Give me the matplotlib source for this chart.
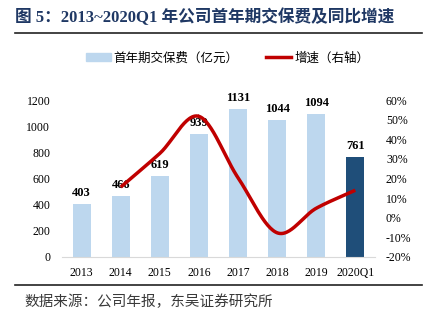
import numpy as np
import matplotlib
matplotlib.use('Agg')
import matplotlib.pyplot as plt
from matplotlib.patches import Patch
from matplotlib.lines import Line2D

categories = ['2013', '2014', '2015', '2016', '2017', '2018', '2019', '2020Q1']
premium = [403, 466, 619, 939, 1131, 1044, 1094, 761]
growth = [None, 15.6, 32.8, 51.7, 20.4, -7.7, 4.8, 14.0]  # %

light_blue = '#BDD7EE'
dark_blue = '#1F4E79'
red = '#C00000'
serif = ['Liberation Serif', 'Noto Sans CJK SC']
cjk = ['Noto Sans CJK SC', 'DejaVu Sans']


def smooth(xs, ys, n=30):
    # excel-like smoothed line (catmull-rom)
    xs = np.asarray(xs, float)
    ys = np.asarray(ys, float)
    px = np.concatenate([[2 * xs[0] - xs[1]], xs, [2 * xs[-1] - xs[-2]]])
    py = np.concatenate([[2 * ys[0] - ys[1]], ys, [2 * ys[-1] - ys[-2]]])
    outx, outy = [], []
    for i in range(1, len(px) - 2):
        t = np.linspace(0, 1, n)
        for p, out in ((px, outx), (py, outy)):
            p0, p1, p2, p3 = p[i - 1], p[i], p[i + 1], p[i + 2]
            out.extend(0.5 * ((2 * p1) + (-p0 + p2) * t
                              + (2 * p0 - 5 * p1 + 4 * p2 - p3) * t ** 2
                              + (-p0 + 3 * p1 - 3 * p2 + p3) * t ** 3))
    return np.array(outx), np.array(outy)


fig = plt.figure(figsize=(4.25, 3.26), dpi=100)
ax = fig.add_axes([0.146, 0.212, 0.736, 0.481])

x = np.arange(len(categories))
colors = [light_blue] * (len(categories) - 1) + [dark_blue]
ax.bar(x, premium, width=0.46, color=colors, zorder=2)
for xi, v in zip(x, premium):
    ax.text(xi, v + 40, str(v), ha='center', va='bottom', fontsize=9,
            fontweight='bold', family=serif, zorder=5)

ax.set_ylim(0, 1200)
ax.set_yticks(range(0, 1201, 200))
ax.set_xlim(-0.5, len(categories) - 0.5)
ax.set_xticks(x)
ax.set_xticklabels(categories)
for s in ['top', 'right', 'left']:
    ax.spines[s].set_visible(False)
ax.spines['bottom'].set_color('#D9D9D9')
ax.tick_params(axis='both', length=0, labelsize=8.5)
ax.tick_params(axis='y', pad=8.5)
ax.tick_params(axis='x', pad=7)
for lab in ax.get_xticklabels() + ax.get_yticklabels():
    lab.set_family(serif)

ax2 = ax.twinx()
gx = [xi for xi, g in zip(x, growth) if g is not None]
gy = [g for g in growth if g is not None]
sx, sy = smooth(gx, gy)
ax2.plot(sx, sy, color=red, lw=2.5, solid_capstyle='butt', zorder=4)
ax2.set_ylim(-20, 60)
ax2.set_yticks(range(-20, 61, 10))
ax2.set_yticklabels([f'{v}%' for v in range(-20, 61, 10)])
for s in ['top', 'right', 'left', 'bottom']:
    ax2.spines[s].set_visible(False)
ax2.tick_params(axis='y', length=0, labelsize=8.5, pad=8)
for lab in ax2.get_yticklabels():
    lab.set_family(serif)

handles = [Patch(color=light_blue, label='首年期交保费（亿元）'),
           Line2D([], [], color=red, lw=2.5, label='增速（右轴）')]
fig.legend(handles=handles, loc='center', bbox_to_anchor=(0.535, 0.822), ncol=2,
           frameon=False, prop={'family': cjk, 'size': 9}, handlelength=2.0,
           handleheight=0.55, columnspacing=2.2, handletextpad=0.25)

fig.text(0.035, 0.948, '图 5：2013~2020Q1 年公司首年期交保费及同比增速', fontsize=12,
         fontweight='bold', color='#1F3864', family=serif, ha='left', va='center')
fig.add_artist(Line2D([0.035, 0.993], [0.899, 0.899], color='#222222', lw=1.2))
fig.add_artist(Line2D([0.035, 0.993], [0.126, 0.126], color='#222222', lw=1.2))
fig.text(0.058, 0.074, '数据来源：公司年报，东吴证券研究所', fontsize=10.5,
         color='#3a3a3a', family=cjk, ha='left', va='center')

fig.savefig('out.png', dpi=100)
